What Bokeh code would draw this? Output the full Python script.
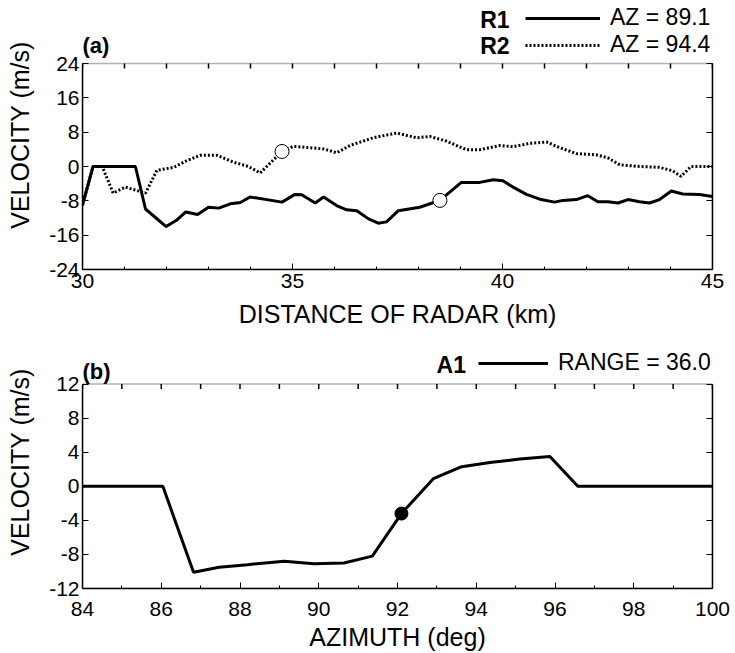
import math
from bokeh.plotting import figure
from bokeh.models import (Range1d, FixedTicker, LinearAxis, Label, Legend, LegendItem,
                          BoxAnnotation)
from bokeh.layouts import column
from bokeh.embed import file_html
from bokeh.resources import INLINE

FONT = "Liberation Sans"

# ---------------- data: panel (a) ----------------
dist_r1 = [30.0, 30.25, 31.26, 31.5, 31.99, 32.23, 32.46, 32.74, 33.0, 33.24, 33.52, 33.76,
           33.99, 34.75, 35.06, 35.22, 35.54, 35.74, 36.05, 36.29, 36.53, 36.81, 37.04,
           37.24, 37.52, 38.03, 38.51, 39.02, 39.46, 39.78, 40.01, 40.25, 40.57, 40.92,
           41.24, 41.44, 41.76, 42.03, 42.27, 42.51, 42.75, 42.99, 43.26, 43.5, 43.74,
           44.02, 44.29, 44.69, 45.0]
vel_r1 = [-9.0, 0.0, 0.0, -9.9, -14.0, -12.6, -10.6, -11.2, -9.5, -9.7, -8.7, -8.4,
          -7.1, -8.3, -6.5, -6.6, -8.5, -7.1, -9.1, -10.1, -10.3, -12.2, -13.2,
          -12.9, -10.3, -9.5, -7.9, -3.7, -3.7, -3.1, -3.3, -4.8, -6.5, -7.7,
          -8.3, -7.9, -7.7, -6.8, -8.2, -8.2, -8.5, -7.7, -8.2, -8.5, -7.7,
          -5.7, -6.4, -6.5, -7.0]

dist_r2 = [30.0, 30.25, 30.47, 30.73, 31.02, 31.3, 31.5, 31.77, 32.17, 32.49, 32.8, 33.2,
           33.6, 33.95, 34.23, 34.75, 35.02, 35.74, 36.05, 36.37, 36.92, 37.48, 37.95,
           38.27, 38.67, 39.14, 39.46, 39.94, 40.25, 40.65, 41.05, 41.36, 41.76, 42.24,
           42.51, 42.79, 43.26, 43.74, 44.05, 44.25, 44.49, 45.0]
vel_r2 = [-9.0, 0.0, 0.0, -6.2, -4.8, -5.6, -6.2, -0.9, -0.2, 1.4, 2.6, 2.6,
          1.0, 0.0, -1.5, 3.5, 4.7, 4.1, 3.2, 4.9, 6.7, 7.8, 6.7,
          7.0, 5.9, 3.9, 3.9, 4.9, 4.6, 5.4, 5.7, 4.4, 3.0, 2.7,
          2.0, 0.4, 0.0, -0.2, -1.0, -2.3, 0.0, 0.0]

marks_a_x = [38.51, 34.75]
marks_a_y = [-7.9, 3.5]

xticks_a = [30, 35, 40, 45]
xlabels_a = ["30", "35", "40", "45"]
xminor_a = [31, 32, 33, 34, 36, 37, 38, 39, 41, 42, 43, 44]
yticks_a = [-24, -16, -8, 0, 8, 16, 24]
ylabels_a = ["-24", "-16", "-8", "0", "8", "16", "24"]

# ---------------- data: panel (b) ----------------
az_a1 = [84.0, 86.04, 86.82, 87.47, 88.19, 89.12, 89.88, 90.64, 91.36, 92.1, 92.91,
         93.63, 94.35, 95.11, 95.87, 96.58, 100.0]
vel_a1 = [0.0, 0.0, -10.1, -9.5, -9.2, -8.8, -9.1, -9.0, -8.2, -3.2, 0.9,
          2.3, 2.8, 3.2, 3.5, 0.0, 0.0]
marks_b_x = [92.1]
marks_b_y = [-3.2]

xticks_b = [84, 86, 88, 90, 92, 94, 96, 98, 100]
xlabels_b = ["84", "86", "88", "90", "92", "94", "96", "98", "100"]
xminor_b = [85, 87, 89, 91, 93, 95, 97, 99]
yticks_b = [-12, -8, -4, 0, 4, 8, 12]
ylabels_b = ["-12", "-8", "-4", "0", "4", "8", "12"]


def style_axis(ax, ticker, labels):
    ax.ticker = ticker
    ax.axis_line_color = "black"
    ax.axis_line_width = 1.5
    ax.major_tick_line_color = "black"
    ax.minor_tick_line_color = "black"
    ax.major_tick_in = 6
    ax.major_tick_out = 0
    ax.minor_tick_in = 3
    ax.minor_tick_out = 0
    ax.major_label_text_font = FONT
    ax.major_label_text_font_size = "21px"
    ax.major_label_text_color = "black"
    ax.major_label_overrides = {t: l for t, l in labels}
    ax.axis_label_text_font = FONT
    ax.axis_label_text_font_size = "25px"
    ax.axis_label_text_font_style = "normal"
    ax.axis_label_text_color = "black"


def make_panel(xr, yr, top_px, frame_h, xticks, xlabels, xminor, yticks, ylabels,
               xlabel, height, left, right, x_standoff, x_label_standoff):
    # the frame reaches the top of the canvas; the area above the data box holds
    # the panel letter and the key, so nothing in it is clipped
    y_top = yr[1] + top_px * (yr[1] - yr[0]) / frame_h
    p = figure(width=735, height=height, x_range=Range1d(*xr),
               y_range=Range1d(yr[0], y_top),
               output_backend="svg", toolbar_location=None,
               min_border_left=left, min_border_right=right,
               min_border_top=0, min_border_bottom=height - top_px - frame_h,
               x_axis_label=xlabel, y_axis_label="VELOCITY (m/s)")
    p.grid.visible = False
    p.outline_line_color = None
    style_axis(p.xaxis[0], FixedTicker(ticks=xticks, minor_ticks=xminor),
               list(zip(xticks, xlabels)))
    style_axis(p.yaxis[0], FixedTicker(ticks=yticks, minor_ticks=[]),
               list(zip(yticks, ylabels)))
    p.yaxis[0].bounds = yr
    p.xaxis[0].major_label_standoff = x_standoff
    p.xaxis[0].axis_label_standoff = x_label_standoff
    p.yaxis[0].major_label_standoff = 3
    p.yaxis[0].axis_label_standoff = 12
    # right frame side with inward ticks and no labels
    rax = LinearAxis(ticker=FixedTicker(ticks=[], minor_ticks=yticks), bounds=yr)
    rax.axis_line_color = "black"
    rax.axis_line_width = 1.5
    rax.minor_tick_line_color = "black"
    rax.minor_tick_in = 6
    rax.minor_tick_out = 0
    rax.major_tick_in = 0
    rax.major_tick_out = 0
    rax.major_label_standoff = 0
    p.add_layout(rax, "right")
    # data box (top edge) and inward ticks along the top edge
    p.add_layout(BoxAnnotation(left=xr[0], right=xr[1], bottom=yr[0], top=yr[1],
                               fill_color=None, fill_alpha=0, line_color="black",
                               line_width=1.5))
    top_ticks = sorted(xticks + xminor)
    p.ray(x=top_ticks, y=[yr[1]] * len(top_ticks), length=5, length_units="screen",
          angle=-math.pi / 2, line_color="black", line_width=1.5)
    return p


def legend_for(items, loc, glyph_width):
    return Legend(items=items, location=loc, glyph_width=glyph_width, glyph_height=20,
                  label_standoff=10, padding=0, spacing=0, margin=0,
                  border_line_color=None, background_fill_alpha=0,
                  label_text_font=FONT, label_text_font_size="23px",
                  label_text_color="black")


def text_label(x, y, text, size):
    return Label(x=x, y=y, text=text, text_font=FONT, text_font_style="bold",
                 text_font_size=size, text_align="right" if text[0] != "(" else "left",
                 text_baseline="middle", text_color="black")


# ---------------- panel (a) ----------------
pa = make_panel((30, 45), (-24, 24), 63, 206, xticks_a, xlabels_a, xminor_a,
                yticks_a, ylabels_a, "DISTANCE OF RADAR (km)", 335, 82, 22, 4, 9)
ra1 = pa.line(dist_r1, vel_r1, line_color="black", line_width=3)
ra2 = pa.line(dist_r2, vel_r2, line_color="black", line_width=3, line_dash="2 2")
pa.scatter(marks_a_x, marks_a_y, size=14, marker="circle", fill_color="white",
           line_color="black", line_width=1)
pa.add_layout(legend_for([LegendItem(label="AZ = 89.1", renderers=[ra1]),
                          LegendItem(label="AZ = 94.4", renderers=[ra2])],
                         (443, 211), 75))
pa.add_layout(text_label(40.17, 34.25, "R1", "23px"))
pa.add_layout(text_label(40.17, 28.19, "R2", "23px"))
pa.add_layout(text_label(30.0, 28.19, "(a)", "22px"))

# ---------------- panel (b) ----------------
pb = make_panel((84, 100), (-12, 12), 49, 206, xticks_b, xlabels_b, xminor_b,
                yticks_b, ylabels_b, "AZIMUTH (deg)", 318, 81, 23, 13, 4)
rb1 = pb.line(az_a1, vel_a1, line_color="black", line_width=3)
pb.scatter(marks_b_x, marks_b_y, size=13, marker="circle", fill_color="black",
           line_color="black")
pb.add_layout(legend_for([LegendItem(label="RANGE = 36.0", renderers=[rb1])],
                         (396, 212), 70))
pb.add_layout(text_label(93.74, 14.21, "A1", "23px"))
pb.add_layout(text_label(84.0, 13.46, "(b)", "22px"))

layout = column(pa, pb, spacing=0)
open("out.html", "w").write(file_html(layout, INLINE))
